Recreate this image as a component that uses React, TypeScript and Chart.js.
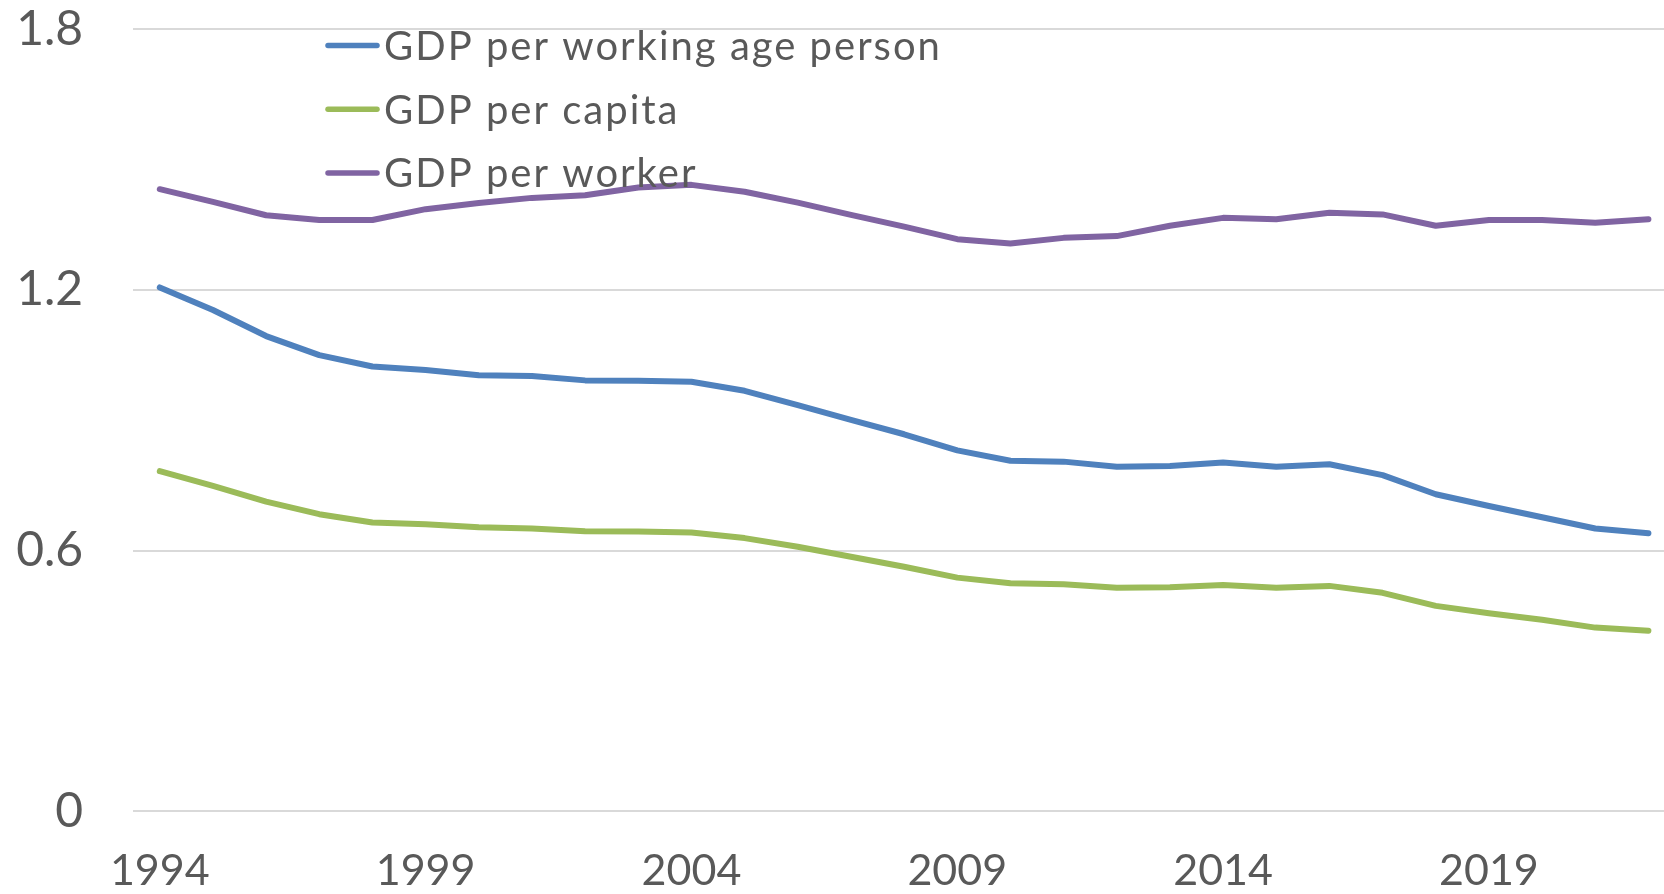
import React, { useEffect, useRef } from 'react';
import { Chart, registerables } from 'chart.js';

Chart.register(...registerables);

const years = [
  '1994', '1995', '1996', '1997', '1998', '1999', '2000', '2001', '2002', '2003',
  '2004', '2005', '2006', '2007', '2008', '2009', '2010', '2011', '2012', '2013',
  '2014', '2015', '2016', '2017', '2018', '2019', '2020', '2021', '2022',
];
const xTickYears = ['1994', '1999', '2004', '2009', '2014', '2019'];
const yTickValues = [0, 0.6, 1.2, 1.8];

const gdpPerWorkingAgePerson = [
  1.206, 1.154, 1.094, 1.050, 1.024, 1.016, 1.004, 1.002, 0.992, 0.991,
  0.989, 0.968, 0.935, 0.901, 0.868, 0.831, 0.807, 0.805, 0.793, 0.795,
  0.803, 0.793, 0.799, 0.774, 0.730, 0.703, 0.677, 0.651, 0.640,
];
const gdpPerCapita = [
  0.783, 0.749, 0.713, 0.684, 0.665, 0.661, 0.654, 0.651, 0.645, 0.644,
  0.642, 0.629, 0.609, 0.586, 0.563, 0.538, 0.525, 0.523, 0.515, 0.516,
  0.521, 0.515, 0.519, 0.503, 0.473, 0.456, 0.441, 0.423, 0.416,
];
const gdpPerWorker = [
  1.432, 1.403, 1.372, 1.361, 1.361, 1.386, 1.400, 1.412, 1.418, 1.436,
  1.442, 1.426, 1.401, 1.373, 1.346, 1.317, 1.307, 1.320, 1.324, 1.348,
  1.366, 1.363, 1.378, 1.374, 1.348, 1.361, 1.361, 1.355, 1.363,
];

const seriesLabels = ['GDP per working age person', 'GDP per capita', 'GDP per worker'];
const seriesColors = ['#4F81BD', '#9BBB59', '#8064A2'];

const FONT = 'Lato, "Open Sans", sans-serif';
const TEXT_COLOR = '#595959';

const insideLegend = {
  id: 'insideLegend',
  afterDatasetsDraw(chart: any) {
    const ctx = chart.ctx as CanvasRenderingContext2D;
    const fontSize = 40;
    ctx.save();
    chart.data.datasets.forEach((ds: any, i: number) => {
      const y = 45.5 + i * 63.8;
      ctx.strokeStyle = ds.borderColor;
      ctx.lineWidth = 5.5;
      ctx.lineCap = 'round';
      ctx.beginPath();
      ctx.moveTo(328, y);
      ctx.lineTo(377, y);
      ctx.stroke();
      ctx.fillStyle = TEXT_COLOR;
      ctx.font = `${fontSize}px ${FONT}`;
      (ctx as any).letterSpacing = '2px';
      ctx.textAlign = 'left';
      ctx.textBaseline = 'alphabetic';
      ctx.fillText(ds.label, 384, y + (fontSize * 0.717) / 2);
    });
    ctx.restore();
  },
};

export default function App() {
  const canvasRef = useRef<HTMLCanvasElement | null>(null);

  useEffect(() => {
    const canvas = canvasRef.current;
    if (!canvas) return;
    const chart = new Chart(canvas, {
      type: 'line',
      data: {
        labels: years,
        datasets: [
          { label: seriesLabels[0], data: gdpPerWorkingAgePerson },
          { label: seriesLabels[1], data: gdpPerCapita },
          { label: seriesLabels[2], data: gdpPerWorker },
        ].map((d, i) => ({
          ...d,
          borderColor: seriesColors[i],
          backgroundColor: seriesColors[i],
          borderWidth: 6,
          borderCapStyle: 'round' as const,
          borderJoinStyle: 'round' as const,
          pointRadius: 0,
          pointHoverRadius: 0,
          tension: 0,
          fill: false,
        })),
      },
      options: {
        animation: false,
        responsive: false,
        maintainAspectRatio: false,
        layout: { autoPadding: false, padding: { left: 0, top: 29.3, right: 1, bottom: 0 } },
        plugins: {
          legend: { display: false },
          tooltip: { enabled: false },
        },
        scales: {
          x: {
            type: 'category',
            offset: true,
            grid: { display: false, drawTicks: false },
            border: { display: false },
            ticks: {
              autoSkip: false,
              maxRotation: 0,
              minRotation: 0,
              padding: 34,
              color: TEXT_COLOR,
              font: { family: FONT, size: 43 },
              callback: (_v: any, idx: number) =>
                xTickYears.includes(years[idx]) ? years[idx] : '',
            },
            afterFit: (scale: any) => {
              scale.height = 894 - 811.4;
              scale.paddingLeft = 0;
              scale.paddingRight = 0;
            },
          },
          y: {
            min: 0,
            max: 1.8,
            grid: { color: '#D9D9D9', lineWidth: 2, drawTicks: false },
            border: { display: false },
            afterBuildTicks: (scale: any) => {
              scale.ticks = yTickValues.map((v) => ({ value: v }));
            },
            ticks: {
              padding: 50,
              color: TEXT_COLOR,
              font: { family: FONT, size: 48 },
              callback: (v: any) => String(Math.round(Number(v) * 10) / 10),
            },
            afterFit: (scale: any) => {
              scale.width = 133.2;
              scale.paddingTop = 0;
              scale.paddingBottom = 0;
            },
          },
        },
      },
      plugins: [insideLegend],
    });
    return () => chart.destroy();
  }, []);

  return (
    <div
      style={{
        position: 'fixed',
        left: 0,
        top: 0,
        width: 1664,
        height: 894,
        overflow: 'hidden',
        background: '#fff',
      }}
    >
      <canvas ref={canvasRef} width={1676} height={894} style={{ display: 'block' }} />
    </div>
  );
}
